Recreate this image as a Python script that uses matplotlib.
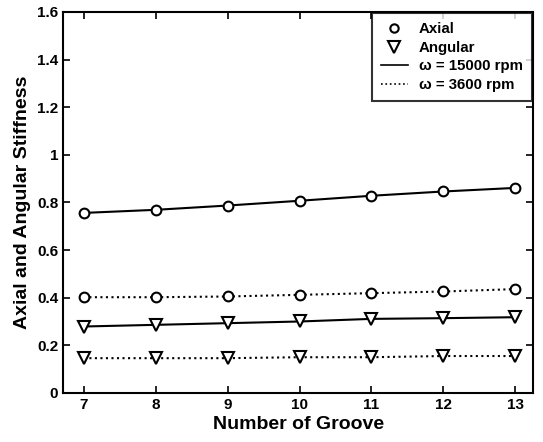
"""Axial and angular stiffness versus number of grooves for two spindle speeds."""

import matplotlib.pyplot as plt
from matplotlib.lines import Line2D

grooves = [7, 8, 9, 10, 11, 12, 13]

axial_15000 = [0.756, 0.769, 0.787, 0.807, 0.828, 0.846, 0.861]
axial_3600 = [0.402, 0.402, 0.405, 0.412, 0.419, 0.426, 0.436]
angular_15000 = [0.279, 0.286, 0.293, 0.300, 0.311, 0.314, 0.318]
angular_3600 = [0.146, 0.146, 0.146, 0.150, 0.150, 0.155, 0.155]

plt.rcParams["font.family"] = ["Liberation Sans", "DejaVu Sans"]
plt.rcParams["font.weight"] = "bold"

fig = plt.figure(figsize=(5.43, 4.42), dpi=100)
ax = fig.add_axes([0.116, 0.111, 0.866, 0.862])

mk = dict(color="black", markerfacecolor="white", markeredgecolor="black",
          markeredgewidth=1.5, linewidth=1.5)

ax.plot(grooves, axial_15000, linestyle="-", marker="o", markersize=7, **mk)
ax.plot(grooves, axial_3600, linestyle=":", marker="o", markersize=7, **mk)
ax.plot(grooves, angular_15000, linestyle="-", marker="v", markersize=9, **mk)
ax.plot(grooves, angular_3600, linestyle=":", marker="v", markersize=9, **mk)

ax.set_xlim(6.71, 13.25)
ax.set_ylim(0, 1.6)
ax.set_xticks(grooves)
ax.set_yticks([0, 0.2, 0.4, 0.6, 0.8, 1.0, 1.2, 1.4, 1.6])
ax.set_yticklabels(["0", "0.2", "0.4", "0.6", "0.8", "1", "1.2", "1.4", "1.6"])
ax.tick_params(direction="in", top=True, right=True, length=5, width=1.2,
               labelsize=11)
for s in ax.spines.values():
    s.set_linewidth(1.5)

ax.set_xlabel("Number of Groove", fontsize=14, fontweight="bold", labelpad=3)
ax.set_ylabel("Axial and Angular Stiffness", fontsize=14, fontweight="bold",
              labelpad=4)

handles = [
    Line2D([], [], linestyle="none", marker="o", markersize=6,
           markerfacecolor="white", markeredgecolor="black", markeredgewidth=1.5),
    Line2D([], [], linestyle="none", marker="v", markersize=8,
           markerfacecolor="white", markeredgecolor="black", markeredgewidth=1.5),
    Line2D([], [], color="black", linestyle="-", linewidth=1.2),
    Line2D([], [], color="black", linestyle=":", linewidth=1.2),
]
labels = ["Axial", "Angular", "ω = 15000 rpm", "ω = 3600 rpm"]
leg = ax.legend(handles, labels, loc="upper right", fontsize=10.8,
                frameon=True, fancybox=False, edgecolor="black",
                borderaxespad=0.1, handlelength=1.8, handletextpad=0.75,
                labelspacing=0.3, borderpad=0.6)
leg.get_frame().set_linewidth(1.5)

fig.savefig("out.png", dpi=100)
